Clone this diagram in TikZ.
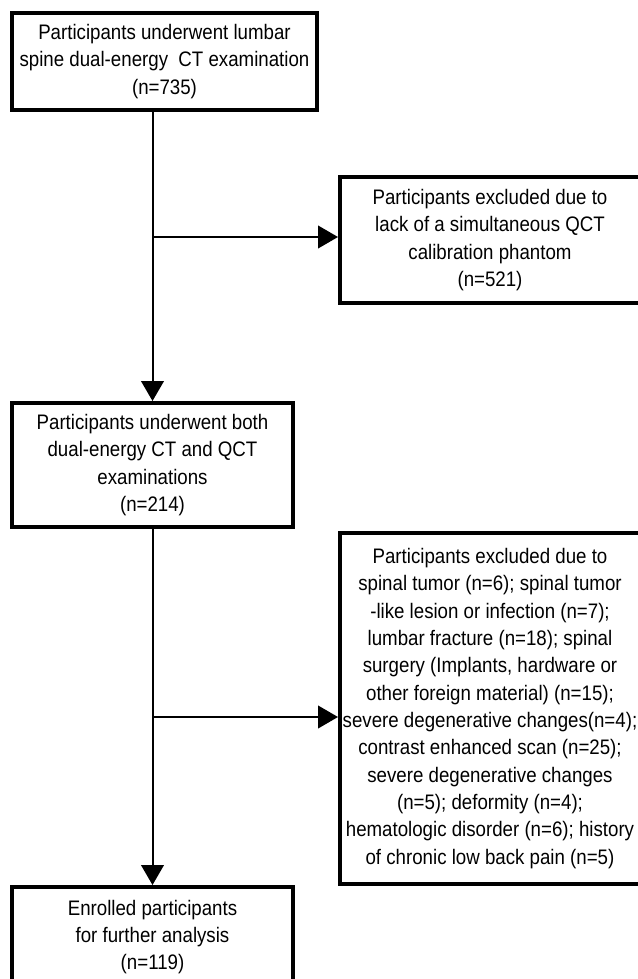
\documentclass[tikz,border=0pt]{standalone}
\usepackage{fontspec}
\setmainfont[FakeStretch=0.89]{Liberation Sans}
\usepackage{tikz}
\usetikzlibrary{arrows.meta}
\tikzset{box/.style={draw, line width=3pt, align=center, inner sep=0pt,
        font=\fontsize{15.75pt}{20.5pt}\selectfont},
    flow/.style={line width=1.5pt, -{Triangle[length=15pt,width=17pt]}}}

\begin{document}
\begin{tikzpicture}[x=0.75pt,y=-0.75pt]
    \useasboundingbox (0,0) rectangle (638,979);
    \clip (0,0) rectangle (638,979);
    % main column
    \node[box, minimum width=228.75pt, minimum height=72.75pt] (total) at (164.5,61.5)
        {Participants underwent lumbar\\ spine dual-energy~ CT examination\\ (n=735)};
    \node[box, minimum width=210.75pt, minimum height=93pt] (both) at (152.5,465)
        {Participants underwent both\\ dual-energy CT and QCT\\ examinations\\ (n=214)};
    \node[box, minimum width=210.75pt, minimum height=75pt] (enrolled) at (152.5,937)
        {Enrolled participants\\ for further analysis\\ (n=119)};
    % exclusions
    \node[box, minimum width=225pt, minimum height=94.5pt] (nophantom) at (490,240)
        {Participants excluded due to\\ lack of a simultaneous QCT\\ calibration phantom\\ (n=521)};
    \node[box, minimum width=225pt, minimum height=263.25pt] (other) at (490,708.5)
        {Participants excluded due to\\ spinal tumor (n=6); spinal tumor\\ -like lesion or infection (n=7);\\
         lumbar fracture (n=18); spinal\\ surgery (Implants, hardware or\\ other foreign material) (n=15);\\
         severe degenerative changes(n=4);\\ contrast enhanced scan (n=25);\\ severe degenerative changes\\
         (n=5); deformity (n=4);\\ hematologic disorder (n=6); history\\ of chronic low back pain (n=5)};
    \coordinate (split1) at (152,237);
    \coordinate (split2) at (152,717);
    % connectors
    \draw[flow] (both.north |- total.south) -- (both.north);
    \draw[flow] (split1) -- (split1 -| nophantom.west);
    \draw[flow] (both.south) -- (enrolled.north);
    \draw[flow] (split2) -- (split2 -| other.west);
\end{tikzpicture}
\end{document}
